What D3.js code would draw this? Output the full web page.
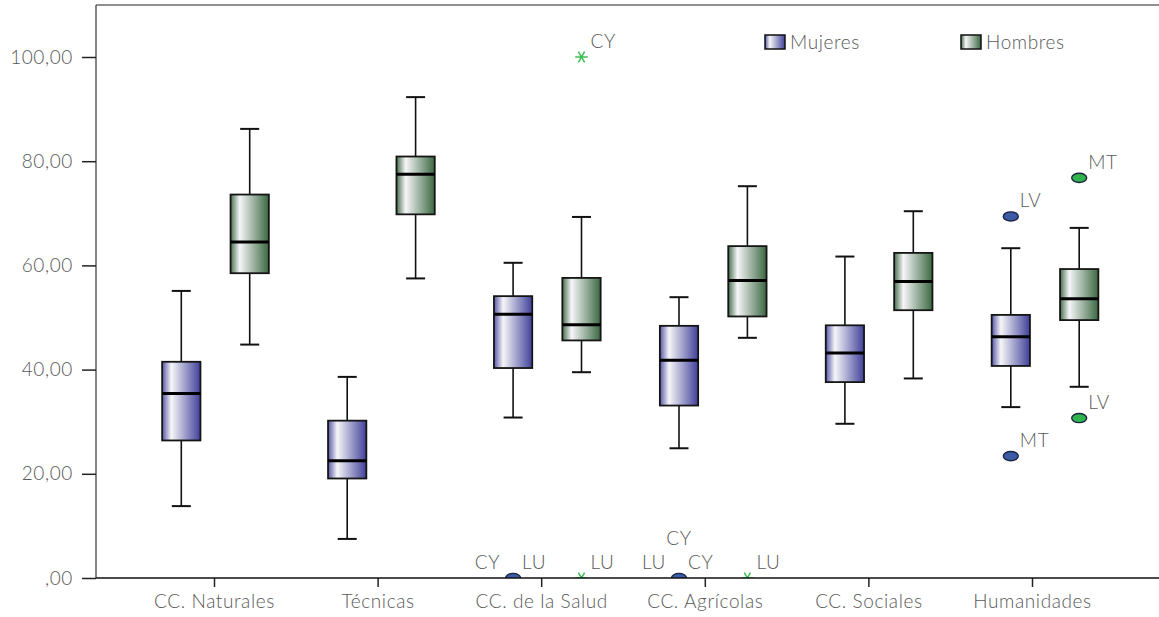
<!DOCTYPE html>
<html><head><meta charset="utf-8">
<script src="https://cdn.jsdelivr.net/npm/d3@7"></script>
<style>
html,body{margin:0;padding:0;background:#fff;}
text{font-family:Lato,"Open Sans",sans-serif;fill:#595959;font-weight:300;letter-spacing:0.6px;}
</style></head>
<body><svg id="c" width="1159" height="617"></svg>
<script>
const categories = ["CC. Naturales","Técnicas","CC. de la Salud","CC. Agrícolas","CC. Sociales","Humanidades"];
const groups = ["Mujeres","Hombres"];
// [lower whisker, Q1, median, Q3, upper whisker]
const mujeres = [
  [13.8,26.4,35.4,41.5,55.1],
  [7.5,19.1,22.5,30.2,38.6],
  [30.8,40.3,50.6,54.1,60.5],
  [24.9,33.1,41.8,48.4,53.9],
  [29.6,37.6,43.2,48.5,61.7],
  [32.8,40.7,46.3,50.5,63.3]
];
const hombres = [
  [44.8,58.5,64.5,73.6,86.2],
  [57.5,69.8,77.5,80.9,92.3],
  [39.5,45.6,48.6,57.6,69.3],
  [46.1,50.2,57.1,63.7,75.2],
  [38.3,51.4,56.9,62.4,70.4],
  [36.7,49.5,53.6,59.3,67.2]
];
// outliers: category, group, value, label, marker, label placement
const outliers = [
  ["CC. de la Salud","Mujeres",0,"CY","circle","left"],
  ["CC. de la Salud","Mujeres",0,"LU","circle","right"],
  ["CC. de la Salud","Hombres",100,"CY","star","right"],
  ["CC. de la Salud","Hombres",0,"LU","star","right"],
  ["CC. Agrícolas","Mujeres",0,"LU","circle","left"],
  ["CC. Agrícolas","Mujeres",0,"CY","circle","top"],
  ["CC. Agrícolas","Mujeres",0,"CY","circle","right"],
  ["CC. Agrícolas","Hombres",0,"LU","star","right"],
  ["Humanidades","Mujeres",69.4,"LV","circle","right"],
  ["Humanidades","Mujeres",23.4,"MT","circle","right"],
  ["Humanidades","Hombres",76.8,"MT","circle","right"],
  ["Humanidades","Hombres",30.7,"LV","circle","right"]
];
const yTicks = [0,20,40,60,80,100];

(function(){
const svg = d3.select("#c");
const pLeft = 96, pTop = 5, pBottom = 578, pRight = 1159;
const y = d3.scaleLinear().domain([0,100]).range([578,57]);
const xBox = d3.scalePoint().domain(categories).range([215.5,1045]);
const xAxisScale = d3.scalePoint().domain(categories).range([214,1032]);
const xSub = d3.scalePoint().domain(groups).range([-34.2,34.2]);
const boxW = 38.3, capW = 19;

const defs = svg.append("defs");
function grad(id, edgeL, edgeR){
  const g = defs.append("linearGradient").attr("id",id).attr("x1","0").attr("x2","1").attr("y1","0").attr("y2","0");
  g.append("stop").attr("offset","0%").attr("stop-color",edgeL);
  g.append("stop").attr("offset","24%").attr("stop-color","#f6f6f8");
  g.append("stop").attr("offset","100%").attr("stop-color",edgeR);
}
grad("gM","#5656a8","#40409a");
grad("gH","#476e4d","#3a6741");
const fillOf = {Mujeres:"url(#gM)", Hombres:"url(#gH)"};
const ptFill = {Mujeres:"#3b5ba6", Hombres:"#2fb34d"};

defs.append("clipPath").attr("id","plot").append("rect")
  .attr("x",pLeft).attr("y",pTop).attr("width",pRight-pLeft).attr("height",pBottom-pTop);

// frame
svg.append("line").attr("x1",pLeft).attr("x2",pRight).attr("y1",pTop).attr("y2",pTop).attr("stroke","#222").attr("stroke-width",1.2);
svg.append("line").attr("x1",pLeft).attr("x2",pLeft).attr("y1",pTop).attr("y2",pBottom).attr("stroke","#333").attr("stroke-width",1.2);

// y axis
const ya = svg.append("g").attr("transform",`translate(${pLeft},0)`)
  .call(d3.axisLeft(y).tickValues(yTicks).tickSize(14).tickPadding(9)
    .tickFormat(d => d===0 ? ",00" : d + ",00"));
ya.select(".domain").remove();
ya.selectAll(".tick line").attr("stroke","#222").attr("stroke-width",1.5);
ya.selectAll(".tick text").style("font-size","19px").attr("fill","#595959");

// x axis
const xa = svg.append("g").attr("transform",`translate(0,${pBottom})`)
  .call(d3.axisBottom(xAxisScale).tickSize(9).tickPadding(8));
xa.select(".domain").remove();
xa.selectAll(".tick line").attr("stroke","#222").attr("stroke-width",1.5);
xa.selectAll(".tick text").style("font-size","19px").attr("fill","#595959");

// boxes
const series = [["Mujeres",mujeres],["Hombres",hombres]];
const plot = svg.append("g");
series.forEach(([g,vals]) => {
  vals.forEach((v,i) => {
    const cx = xBox(categories[i]) + xSub(g);
    const gg = plot.append("g");
    gg.append("line").attr("x1",cx).attr("x2",cx).attr("y1",y(v[0])).attr("y2",y(v[1])).attr("stroke","#111").attr("stroke-width",1.6);
    gg.append("line").attr("x1",cx).attr("x2",cx).attr("y1",y(v[3])).attr("y2",y(v[4])).attr("stroke","#111").attr("stroke-width",1.6);
    [v[0],v[4]].forEach(w => gg.append("line").attr("x1",cx-capW/2).attr("x2",cx+capW/2).attr("y1",y(w)).attr("y2",y(w)).attr("stroke","#111").attr("stroke-width",2));
    gg.append("rect").attr("x",cx-boxW/2).attr("y",y(v[3])).attr("width",boxW).attr("height",y(v[1])-y(v[3]))
      .attr("fill",fillOf[g]).attr("stroke","#151515").attr("stroke-width",1.8);
    gg.append("line").attr("x1",cx-boxW/2).attr("x2",cx+boxW/2).attr("y1",y(v[2])).attr("y2",y(v[2])).attr("stroke","#000").attr("stroke-width",3);
  });
});

// outliers
const og = svg.append("g").attr("clip-path","url(#plot)");
const lg = svg.append("g");
const drawn = new Set();
outliers.forEach(([cat,g,val,lab,mk,pl]) => {
  const cx = xBox(cat) + xSub(g), cy = y(val);
  const key = cat+g+val;
  if(!drawn.has(key)){
    drawn.add(key);
    if(mk==="circle"){
      og.append("ellipse").attr("cx",cx).attr("cy",cy).attr("rx",7.5).attr("ry",4.6)
        .attr("fill",ptFill[g]).attr("stroke","#1c2440").attr("stroke-width",1.4);
    } else {
      og.append("path").attr("d",d3.symbol(d3.symbolAsterisk,110)())
        .attr("transform",`translate(${cx},${cy}) rotate(90)`)
        .attr("fill","none").attr("stroke","#3cbf55").attr("stroke-width",1.5);
    }
  }
  let tx, ty, anchor;
  if(pl==="right"){ tx = cx+9; ty = cy-9; anchor="start"; }
  else if(pl==="left"){ tx = cx-13; ty = cy-9; anchor="end"; }
  else { tx = cx; ty = cy-33; anchor="middle"; }
  lg.append("text").attr("x",tx).attr("y",ty).attr("text-anchor",anchor)
    .style("font-size","19px").text(lab);
});

// axis line on top of clipped markers
svg.append("line").attr("x1",pLeft).attr("x2",pRight).attr("y1",pBottom).attr("y2",pBottom).attr("stroke","#111").attr("stroke-width",1.5);

// legend
const legend = svg.append("g");
groups.forEach((g,i) => {
  const lx = 765 + i*196, ly = 35;
  legend.append("rect").attr("x",lx).attr("y",ly).attr("width",20).attr("height",14)
    .attr("fill",fillOf[g]).attr("stroke","#111").attr("stroke-width",1.5);
  legend.append("text").attr("x",lx+25).attr("y",ly+14).style("font-size","19px").text(g);
});
})();
</script></body></html>
